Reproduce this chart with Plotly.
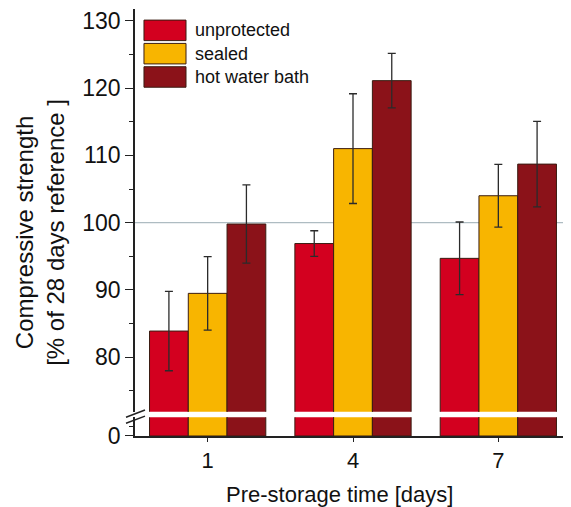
import plotly.graph_objects as go

# ---- data ----
days = ["1", "4", "7"]
series_names = ["unprotected", "sealed", "hot water bath"]
unprotected = [83.9, 96.9, 94.7]
unprotected_err = [5.9, 1.9, 5.4]
sealed = [89.5, 111.0, 104.0]
sealed_err = [5.45, 8.15, 4.65]
hot_water_bath = [99.8, 121.1, 108.7]
hot_water_bath_err = [5.8, 4.05, 6.35]
reference_level = 100
y_ticks_top = [80, 90, 100, 110, 120, 130]

colors = ["#D3001F", "#F8B500", "#8B1219"]
edge = "#3a1c12"
font_family = "Liberation Sans, Arial, sans-serif"
txt = "#111111"

values = [unprotected, sealed, hot_water_bath]
errors = [unprotected_err, sealed_err, hot_water_bath_err]

fig = go.Figure()
for name, vals, errs, col in zip(series_names, values, errors, colors):
    # upper (broken) part
    fig.add_bar(x=days, y=vals, name=name, xaxis="x", yaxis="y2",
                marker=dict(color=col, line=dict(color=edge, width=1)),
                error_y=dict(type="data", array=errs, color="#2b2b2b",
                             thickness=1.3, width=4),
                showlegend=False)
    # lower part near zero
    fig.add_bar(x=days, y=vals, name=name, xaxis="x", yaxis="y",
                marker=dict(color=col, line=dict(color=edge, width=1)),
                showlegend=False, hoverinfo="skip")

gap_lo, gap_hi = 0.0438, 0.0569

axis_common = dict(showline=True, linecolor="#222222", linewidth=1.5,
                   showgrid=False, zeroline=False, ticks="outside",
                   tickcolor="#222222", automargin=False,
                   ticklabeloverflow="allow")

# the page body adds an 8 px margin, so the figure is 8 px smaller
fig.update_layout(
    width=563, height=499,
    margin=dict(l=127, r=0, t=1, b=71),
    paper_bgcolor="white", plot_bgcolor="white",
    font=dict(family=font_family, color=txt),
    barmode="group", bargap=0.2, bargroupgap=0,
    xaxis=dict(domain=[0, 1], anchor="y", type="category",
               range=[-0.5, 2.5], ticklen=4,
               tickfont=dict(size=22, color=txt), **axis_common),
    yaxis=dict(domain=[0, gap_lo], anchor="x", range=[0, 2],
               tickvals=[0], ticktext=["0"], ticklen=8,
               tickfont=dict(size=23, color=txt),
               minor=dict(tickvals=[1], ticks="outside", ticklen=4,
                          tickcolor="#222222"),
               **axis_common),
    yaxis2=dict(domain=[gap_hi, 1], anchor="x", range=[71.92, 131.74],
                tickvals=y_ticks_top, ticklen=8,
                tickfont=dict(size=23, color=txt),
                minor=dict(dtick=5, tick0=0, ticks="outside", ticklen=4,
                           tickcolor="#222222"),
                **axis_common),
)

# reference line at 100 %
fig.add_shape(type="line", xref="paper", x0=0, x1=1, yref="y2",
              y0=reference_level, y1=reference_level,
              line=dict(color="#aebcc2", width=1.2), layer="below")

# axis-break marks
for y0, y1 in [(0.0440, 0.0609), (0.0297, 0.0466)]:
    fig.add_shape(type="line", xref="paper", yref="paper",
                  x0=-0.0206, x1=0.0229, y0=y0, y1=y1,
                  line=dict(color="#222222", width=1.5))

# custom legend with wide swatches
sw_x0, sw_x1 = 0.0206, 0.117
top_y, sw_h, step = 0.974, 0.048, 0.0546
for i, (name, col) in enumerate(zip(series_names, colors)):
    yt = top_y - i * step
    fig.add_shape(type="rect", xref="paper", yref="paper",
                  x0=sw_x0, x1=sw_x1, y0=yt - sw_h, y1=yt,
                  fillcolor=col, line=dict(color=edge, width=1))
    fig.add_annotation(x=0.132, y=yt - sw_h / 2, xref="paper", yref="paper",
                       text=name, showarrow=False, xanchor="left",
                       yanchor="middle", font=dict(size=18, color=txt))

# axis titles
fig.add_annotation(x=-0.218, y=0.478, xref="paper", yref="paper",
                   text="Compressive strength<br>[% of 28 days reference ]",
                   textangle=-90, showarrow=False, xanchor="center",
                   yanchor="middle", font=dict(size=24, color=txt))
fig.add_annotation(x=0.47, y=-0.136, xref="paper", yref="paper",
                   text="Pre-storage time [days]", showarrow=False,
                   xanchor="center", yanchor="middle",
                   font=dict(size=22, color=txt))

fig.write_html("out.html")
